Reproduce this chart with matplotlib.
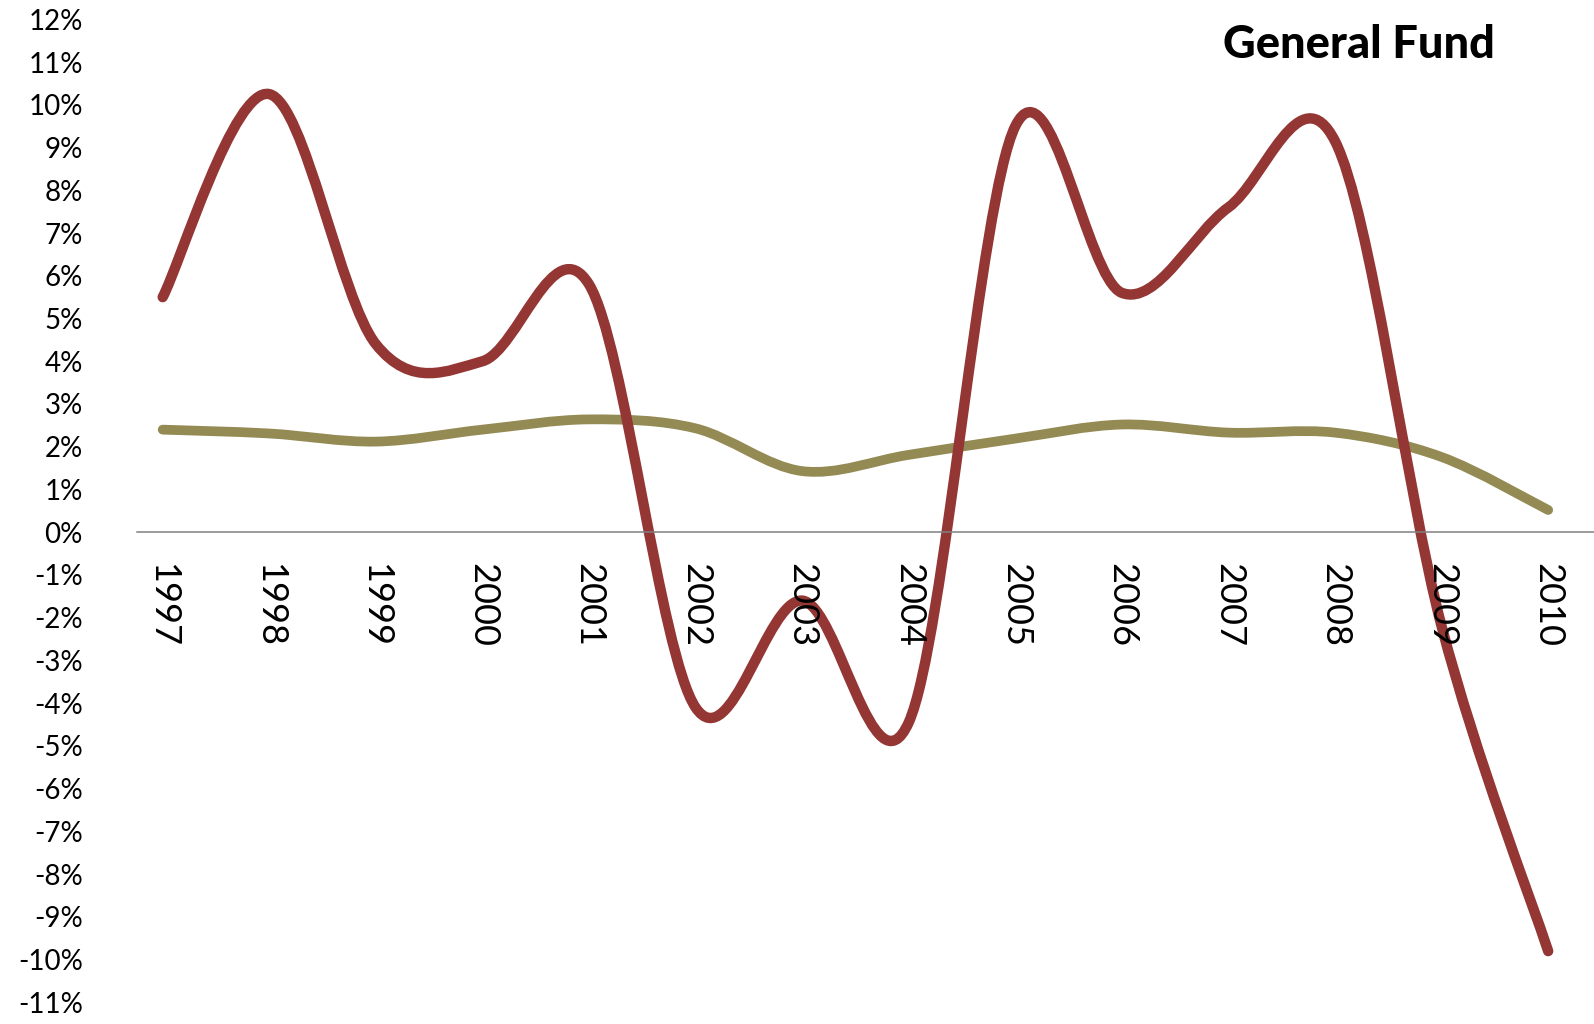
import numpy as np
import matplotlib
matplotlib.use('Agg')
import matplotlib.pyplot as plt
from matplotlib.path import Path
from matplotlib.patches import PathPatch

# data (annual % change)
years = ['1997', '1998', '1999', '2000', '2001', '2002', '2003',
         '2004', '2005', '2006', '2007', '2008', '2009', '2010']
general_fund = [5.5, 10.25, 4.4, 4.0, 5.8, -4.1, -1.6,
                -4.45, 9.5, 5.6, 7.6, 9.15, -2.2, -9.8]
benchmark = [2.40, 2.31, 2.12, 2.40, 2.64, 2.43, 1.43,
             1.81, 2.19, 2.52, 2.33, 2.33, 1.76, 0.52]

yticks = list(range(-11, 13))

red = '#943634'
olive = '#948A54'


def smooth_path(yvals):
    '''Excel style smoothed line: Catmull-Rom segments as cubic Beziers'''
    pts = np.column_stack([np.arange(len(yvals)), yvals]).astype(float)
    n = len(pts)
    verts = [pts[0]]
    codes = [Path.MOVETO]
    for i in range(n - 1):
        p0 = pts[max(i - 1, 0)]
        p1 = pts[i]
        p2 = pts[i + 1]
        p3 = pts[min(i + 2, n - 1)]
        verts += [p1 + (p2 - p0) / 6, p2 - (p3 - p1) / 6, p2]
        codes += [Path.CURVE4] * 3
    return Path(verts, codes)


fig = plt.figure(figsize=(15.94, 10.24), dpi=100)
ax = fig.add_axes([137 / 1594, 1 - 1002.4 / 1024, 1 - 137 / 1594, (1002.4 - 19.3) / 1024])

ax.add_patch(PathPatch(smooth_path(benchmark), fill=False, edgecolor=olive,
                       lw=7, capstyle='round', joinstyle='round', zorder=2))
ax.add_patch(PathPatch(smooth_path(general_fund), fill=False, edgecolor=red,
                       lw=7.5, capstyle='round', joinstyle='round', zorder=2))

ax.set_xlim(-0.241, 13.43)
ax.set_ylim(-11, 12)

for s in ['top', 'right', 'left']:
    ax.spines[s].set_visible(False)
ax.spines['bottom'].set_position(('data', 0))
ax.spines['bottom'].set_color('#808080')
ax.spines['bottom'].set_linewidth(1.1)
ax.set_axisbelow(False)

ax.set_yticks(yticks)
ax.set_yticklabels([str(v) + '%' for v in yticks], fontsize=20, family='Lato')
ax.tick_params(axis='y', length=0, pad=39)

ax.set_xticks(range(len(years)))
ax.set_xticklabels(years, rotation=270, fontsize=26, family='Lato')
ax.tick_params(axis='x', length=0, pad=22)

fig.text(1495 / 1594, 1 - 45 / 1024, 'General Fund', ha='right', va='center',
         fontsize=32.5, fontweight='black', family='Lato')

plt.savefig('out.png', dpi=100)
